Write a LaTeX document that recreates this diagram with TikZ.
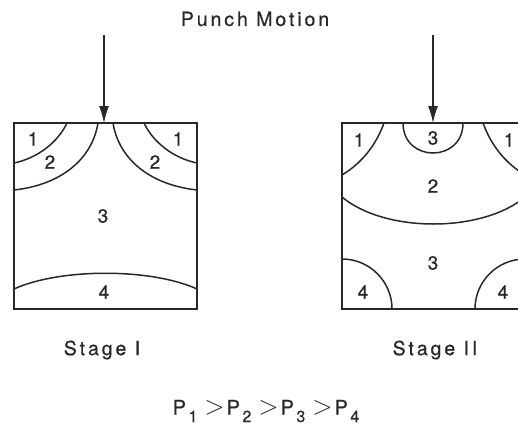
\documentclass[tikz,border=0pt]{standalone}
\usepackage{fontspec}
\setmainfont{TeX Gyre Heros}[FakeBold=0.6]
\newfontfamily\spacedfont{TeX Gyre Heros}[LetterSpace=15,FakeBold=0.6]
\usetikzlibrary{arrows.meta}
\definecolor{ink}{RGB}{40,40,40}
\newcommand{\subdigit}[1]{\kern2.5pt\raisebox{-7.5pt}{\fontsize{16}{16}\selectfont #1}}
\newcommand{\bigger}{\scalebox{1.28}{$>$}}
\tikzset{
  boxline/.style={draw=ink, line width=2.3pt},
  zone/.style={draw=ink, line width=1.5pt},
  num/.style={text=ink, font=\fontsize{19}{19}\selectfont, inner sep=0pt},
  caption/.style={text=ink, font=\fontsize{19.5}{19.5}\selectfont\spacedfont, inner sep=0pt},
  relation/.style={text=ink, font=\fontsize{20}{20}\selectfont, inner sep=0pt},
  punch/.style={draw=ink, line width=1.3pt, -{Latex[length=17pt,width=10pt]}}
}
\begin{document}
\begin{tikzpicture}[x=1pt,y=-1pt]
\useasboundingbox (0,0) rectangle (518,425);
\clip (0,0) rectangle (518,425);
% ---------- Stage I ----------
\coordinate (Ltl) at (14,123);
\coordinate (Lbr) at (197,309);
\coordinate (Lin) at (104,35);
\coordinate (Lhit) at (104,123);
\draw[zone] (67,123) .. controls (58,142) and (38,158) .. (14,163);
\draw[zone] (98,123) .. controls (92,160) and (60,185) .. (14,190);
\draw[zone] (144,123) .. controls (153,142) and (173,158) .. (197,163);
\draw[zone] (113,123) .. controls (119,160) and (151,185) .. (197,190);
\draw[zone] (14,289) .. controls (60,268) and (151,268) .. (197,289);
\draw[boxline] (Ltl) rectangle (Lbr);
\draw[punch] (Lin) -- (Lhit);
\node[num] (l1a) at (33,139) {1};
\node[num] (l1b) at (178,139) {1};
\node[num] (l2a) at (50,162) {2};
\node[num] (l2b) at (155,162) {2};
\node[num] (l3) at (103,216) {3};
\node[num] (l4) at (104,292) {4};
% ---------- Stage II ----------
\coordinate (Rtl) at (342,123);
\coordinate (Rbr) at (525,309);
\coordinate (Rin) at (433,35);
\coordinate (Rhit) at (433,123);
\draw[zone] (384,123) .. controls (376,145) and (362,163) .. (342,175);
\draw[zone] (483,123) .. controls (491,145) and (505,163) .. (525,175);
\draw[zone] (403,123) .. controls (403,163) and (463,163) .. (463,123);
\draw[zone] (342,197) .. controls (385,233) and (482,233) .. (525,197);
\draw[zone] (342,259) .. controls (369.6,259) and (392,281.4) .. (392,309);
\draw[zone] (475,309) .. controls (475,281.4) and (497.4,259) .. (525,259);
\draw[boxline] (Rtl) rectangle (Rbr);
\draw[punch] (Rin) -- (Rhit);
\node[num] (r1a) at (359,140) {1};
\node[num] (r3a) at (433,138) {3};
\node[num] (r1b) at (509,140) {1};
\node[num] (r2) at (433,186) {2};
\node[num] (r3b) at (433,263) {3};
\node[num] (r4a) at (363,292) {4};
\node[num] (r4b) at (503,292) {4};
% ---------- captions ----------
\node[caption] (title) at (255,19) {Punch Motion};
\node[caption] (s1) at (102,350) {Stage I};
\node[caption] (s2) at (435,350) {Stage II};
\node[relation, anchor=base] (rel) at (266,414.5) {P\subdigit{1}\kern7pt\bigger\kern2pt P\subdigit{2}\kern7pt\bigger\kern2pt P\subdigit{3}\kern7pt\bigger\kern2pt P\subdigit{4}};
\end{tikzpicture}
\end{document}
